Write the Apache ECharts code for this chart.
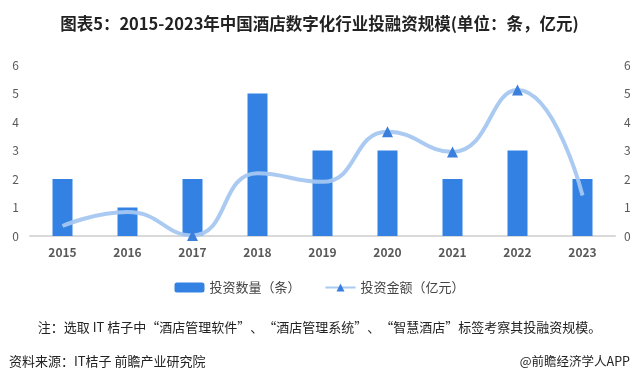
<!DOCTYPE html>
<html><head><meta charset="utf-8">
<script src="https://cdn.jsdelivr.net/npm/echarts@6/dist/echarts.min.js"></script>
<style>html,body{margin:0;padding:0;background:#fff}#c{width:639px;height:380px}</style>
</head><body><div id="c"></div>
<script>
const categories = ['2015','2016','2017','2018','2019','2020','2021','2022','2023'];
const countValues = [2,1,2,5,3,3,2,3,2];
const amountValues = [0.35,0.84,0.02,2.2,1.9,3.66,2.95,5.12,1.42];
const markerShown = [false,false,true,false,false,true,true,true,false];
const yTicks = [0,1,2,3,4,5,6];
const seriesNames = ['投资数量（条）','投资金额（亿元）'];
const titleText = '图表5：2015-2023年中国酒店数字化行业投融资规模(单位：条，亿元)';
const noteText = '注：选取 IT 桔子中“酒店管理软件”、“酒店管理系统”、“智慧酒店”标签考察其投融资规模。';
const sourceText = '资料来源：IT桔子 前瞻产业研究院';
const brandText = '@前瞻经济学人APP';

const chart = echarts.init(document.getElementById('c'));
const fontFam = '"Microsoft YaHei","Noto Sans CJK SC",sans-serif';
chart.setOption({
  animation:false,
  textStyle:{fontFamily:fontFam},
  title:[
    {text:titleText,left:'center',top:10,textStyle:{fontSize:16.5,fontWeight:'bold',color:'#222',fontFamily:fontFam}},
    {text:noteText,left:'center',top:316,textStyle:{fontSize:13,fontWeight:'normal',color:'#222',fontFamily:fontFam}},
    {text:sourceText,left:4,top:350,textStyle:{fontSize:13,fontWeight:'normal',color:'#222',fontFamily:fontFam}},
    {text:brandText,right:4,top:350,textStyle:{fontSize:12.5,fontWeight:'normal',color:'#222',fontFamily:fontFam}}
  ],
  legend:{top:276,left:'center',itemGap:24,itemWidth:30,itemHeight:10,
    textStyle:{fontSize:13,color:'#444'},data:seriesNames},
  grid:{left:30,right:24,top:65,bottom:144},
  xAxis:{type:'category',data:categories,
    axisLine:{lineStyle:{color:'#d9d9d9',width:2}},axisTick:{show:false},
    axisLabel:{color:'#595959',fontSize:12,fontWeight:'bold',margin:10}},
  yAxis:[
    {type:'value',min:0,max:6,interval:1,splitLine:{show:false},axisLine:{show:false},
     axisLabel:{color:'#595959',fontSize:12,margin:11,formatter:v=>yTicks.includes(v)?String(v):''}},
    {type:'value',min:0,max:6,interval:1,splitLine:{show:false},axisLine:{show:false},
     axisLabel:{color:'#595959',fontSize:12,margin:9,formatter:v=>yTicks.includes(v)?String(v):''}}
  ],
  series:[
    {name:seriesNames[0],type:'bar',data:countValues,barWidth:20,itemStyle:{color:'#3382e3'}},
    {name:seriesNames[1],type:'line',yAxisIndex:1,smooth:0.5,symbol:'triangle',symbolSize:11,
     lineStyle:{width:4,color:'rgba(165,199,241,0.95)'},itemStyle:{color:'#3a7fdc'},
     data:amountValues.map((v,i)=>markerShown[i]?{value:v}:{value:v,symbol:'none'})}
  ]
});
</script></body></html>
